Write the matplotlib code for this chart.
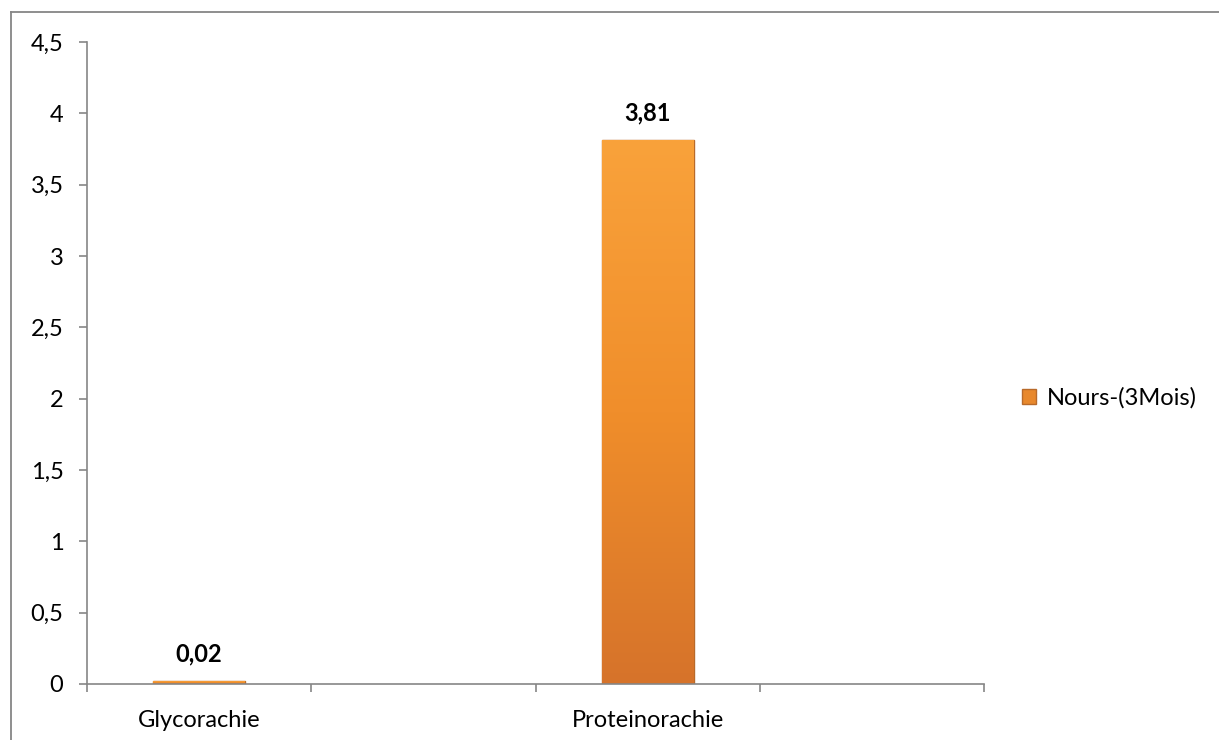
import numpy as np
import matplotlib
matplotlib.use("Agg")
import matplotlib.pyplot as plt
from matplotlib.colors import LinearSegmentedColormap
from matplotlib.lines import Line2D
from matplotlib.patches import Patch

# data
categories = ["Glycorachie", "", "Proteinorachie", ""]
values = [0.02, np.nan, 3.81, np.nan]
series_name = "Nours-(3Mois)"
yticks = [0, 0.5, 1, 1.5, 2, 2.5, 3, 3.5, 4, 4.5]

plt.rcParams["font.family"] = ["Lato", "DejaVu Sans"]
GRAY = "#868686"
FS = 17

fig = plt.figure(figsize=(12.19, 7.40), dpi=100)
ax = fig.add_axes([0.0714, 0.0757, 0.7358, 0.8675])

x = np.arange(len(categories))
bars = ax.bar(x, values, width=0.41, color="#F0902E", edgecolor="#B86A2A", linewidth=1.0, zorder=2)

# vertical gradient inside each bar
cmap = LinearSegmentedColormap.from_list("orng", ["#D6732A", "#F08E2B", "#F9A23B"])
grad = np.linspace(0, 1, 256).reshape(-1, 1)
for b, v in zip(bars, values):
    if np.isnan(v):
        continue
    x0, w, h = b.get_x(), b.get_width(), b.get_height()
    im = ax.imshow(grad, cmap=cmap, origin="lower", aspect="auto",
                   extent=(x0, x0 + w, 0, h), zorder=2.5)
    im.set_clip_path(b)
    ax.text(x0 + w / 2, h + 0.11, f"{v:.2f}".replace(".", ","), ha="center", va="bottom",
            fontsize=FS, fontweight="bold")

ax.set_xlim(-0.5, len(categories) - 0.5)
ax.set_ylim(0, 4.5)
ax.set_yticks(yticks)
ax.set_yticklabels([f"{t:g}".replace(".", ",") for t in yticks], fontsize=FS)
ax.set_xticks(x)
ax.set_xticklabels(categories, fontsize=FS)
ax.set_xticks(np.arange(len(categories) + 1) - 0.5, minor=True)
ax.tick_params(axis="x", which="major", length=0, pad=19)
ax.tick_params(axis="x", which="minor", length=6, color=GRAY, width=1.2)
ax.tick_params(axis="y", length=6, color=GRAY, width=1.2, pad=11)

for s in ["top", "right"]:
    ax.spines[s].set_visible(False)
for s in ["left", "bottom"]:
    ax.spines[s].set_color(GRAY)
    ax.spines[s].set_linewidth(1.2)

handle = Patch(facecolor="#E8882C", edgecolor="#B86A2A")
ax.legend([handle], [series_name], loc="center left", bbox_to_anchor=(1.019, 0.445),
          frameon=False, fontsize=FS, handlelength=0.6, handleheight=0.6, handletextpad=0.45)

# outer chart border (top and left visible)
fig.add_artist(Line2D([11 / 1219, 11 / 1219], [0, 1 - 12 / 740], color=GRAY, lw=1.3))
fig.add_artist(Line2D([11 / 1219, 1], [1 - 12 / 740, 1 - 12 / 740], color=GRAY, lw=1.3))

fig.savefig("out.png", dpi=100)
